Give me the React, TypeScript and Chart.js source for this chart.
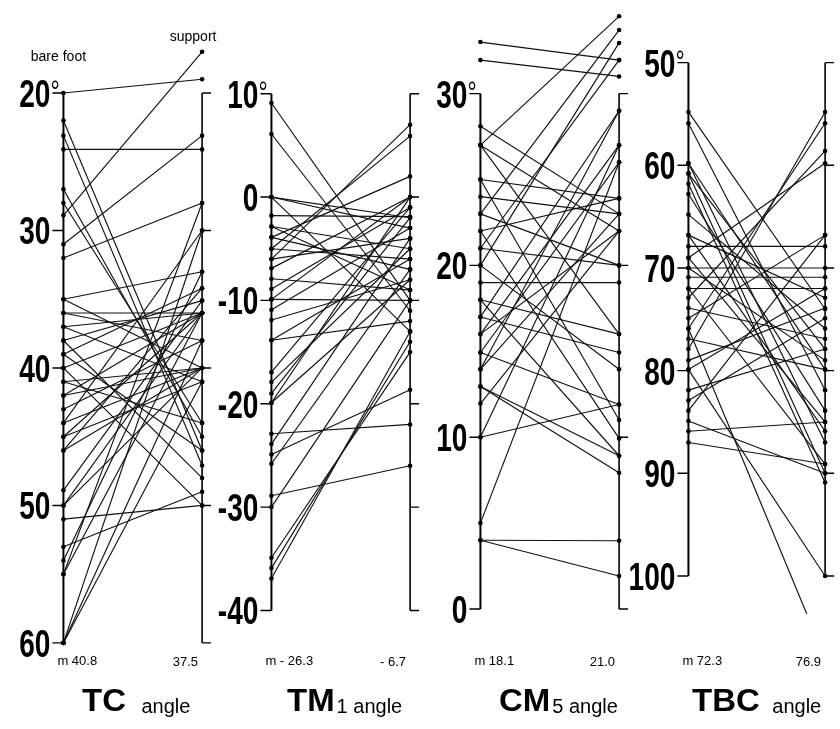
import React, { useEffect, useRef } from "react";
import { Chart, registerables } from "chart.js";

Chart.register(...registerables);

// ---------- data ----------
// TC angle (deg): bare foot -> support
const tcBareFoot = [20, 22, 23.1, 24.1, 27, 28, 28.9, 31, 32, 35, 35, 36, 36, 37, 37, 38, 38, 39, 39, 40, 40, 41, 41, 42, 42, 43, 44, 44, 45, 45, 46, 46, 48.9, 50, 50, 51, 53, 54, 55, 55, 60, 60, 60];
const tcSupport = [19, 46, 47.1, 24.1, 45, 44, 17, 23.1, 28, 33, 40, 38, 36, 41, 36, 48, 35.1, 46, 34.2, 50, 36, 44, 40, 36, 40, 38, 40, 30, 36, 41, 34.2, 40, 35.1, 40, 36, 50, 49, 33, 36, 28, 38, 41, 30];
const tcTicks = [20, 30, 40, 50, 60];

// TM1 angle
const tm1BareFoot = [9.1, 6.1, 0, 0, 0, -1.8, -2.85, -2.85, -3.9, -3.9, -5, -5, -6, -6, -6.9, -7.9, -8.9, -9.9, -9.9, -10.9, -11.9, -13.85, -13.85, -16.95, -17.9, -19, -19.9, -19.9, -22.9, -23.9, -24.9, -25.8, -28.9, -30, -34.9, -35.9, -36.9];
const tm1Support = [-10, -11, -2, -3, -13, -1.9, -5, -9, 2, -7, 5.9, -6, 7, -4, 0, -9, -1, -10, 0, -3, -8, -6, -12, -1, -5, -2, -8, 0, -22, -4, -18.65, -7, -26, -10, -15, -14, -13];
const tm1Ticks = [10, 0, -10, -20, -30, -40];

// CM5 angle
const cm5BareFoot = [33, 31.95, 28.1, 27, 27, 27, 25, 25, 24, 23, 23, 22, 22, 21, 21, 20, 20, 19, 18, 18, 17, 17, 16, 16, 14.93, 14.93, 13.95, 13.95, 12.95, 12.95, 11.96, 10, 10, 5, 4, 4];
const cm5Support = [31.95, 31, 23, 34.5, 22, 16, 23.9, 11, 23, 33.7, 20, 23.9, 9.93, 20, 31.95, 32.95, 13.95, 19, 16, 8.92, 29, 14.93, 27, 22, 26, 11.9, 29, 23, 8.92, 7.93, 22, 11.9, 27, 26, 3.97, 1.92];
const cm5Ticks = [30, 20, 10, 0];

// TBC angle
const tbcBareFoot = [54.8, 55.9, 59.8, 59.8, 60.8, 60.8, 61.8, 62.8, 64.8, 66.8, 66.8, 67.9, 69, 69, 70, 70, 70.9, 72, 72, 72.9, 73.9, 74.9, 75.9, 75.9, 76.9, 77.9, 79, 79.9, 79.9, 81.9, 82.9, 83.9, 84.9, 85.9, 87];
const tbcSupport = [74, 81.9, 87, 79.9, 90, 77.9, 90.9, 83.9, 75.9, 72.9, 85.9, 67.9, 59.8, 85, 70, 79, 70.9, 72, 89.1, 58.6, 76.9, 66.8, 108, 55.9, 79.9, 54.8, 73.9, 100, 72, 77.9, 74.9, 66.8, 90, 85, 89.1];
const tbcTicks = [50, 60, 70, 80, 90, 100];

const meanBare = ["m 40.8", "m - 26.3", "m 18.1", "m 72.3"];
const meanSupport = ["37.5", "- 6.7", "21.0", "76.9"];
const titleMain = ["TC", "TM", "CM", "TBC"];
const titleSub = [" angle", "1 angle", "5 angle", " angle"];

// ---------- layout ----------
const W = 840;
const H = 729;

type Panel = {
  bare: number[];
  support: number[];
  ticks: number[];
  leftX: number;
  rightX: number;
  anchorV: number;
  anchorPx: number;
  s: number;
  down: boolean;
  clipBottomValue?: number;
  titleX: number;
  subGap: number;
};

const panels: Panel[] = [
  { bare: tcBareFoot, support: tcSupport, ticks: tcTicks, leftX: 60, rightX: 200, anchorV: 20, anchorPx: 90, s: 13.9, down: true, titleX: 82, subGap: 10 },
  { bare: tm1BareFoot, support: tm1Support, ticks: tm1Ticks, leftX: 270, rightX: 410, anchorV: 10, anchorPx: 90.7, s: 10.45, down: false, titleX: 287, subGap: 2 },
  { bare: cm5BareFoot, support: cm5Support, ticks: cm5Ticks, leftX: 481, rightX: 621, anchorV: 0, anchorPx: 611.7, s: 17.37, down: false, titleX: 499, subGap: 2 },
  { bare: tbcBareFoot, support: tbcSupport, ticks: tbcTicks, leftX: 691, rightX: 829, anchorV: 50, anchorPx: 59.3, s: 10.38, down: true, clipBottomValue: 103.8, titleX: 692, subGap: 7 },
];

const TICK_FONT = 'bold 39px "Liberation Sans", Arial, sans-serif';
const TICK_SCALE = 0.72;
const SMALL_FONT = '13px "Liberation Sans", Arial, sans-serif';
const LABEL_FONT = '14px "Liberation Sans", Arial, sans-serif';
const TITLE_FONT = 'bold 32px "Liberation Sans", Arial, sans-serif';
const TITLE_SCALE = 1.03;
const SUB_FONT = '20px "Liberation Sans", Arial, sans-serif';

function buildScales() {
  const scales: any = {};
  panels.forEach((p, i) => {
    const span = p.rightX - p.leftX;
    scales["x" + i] = {
      type: "linear",
      axis: "x",
      display: false,
      min: (0 - p.leftX) / span,
      max: (W - p.leftX) / span,
    };
    if (p.down) {
      scales["y" + i] = {
        type: "linear",
        axis: "y",
        display: false,
        reverse: true,
        min: p.anchorV - p.anchorPx / p.s,
        max: p.anchorV + (H - p.anchorPx) / p.s,
      };
    } else {
      scales["y" + i] = {
        type: "linear",
        axis: "y",
        display: false,
        min: p.anchorV - (H - p.anchorPx) / p.s,
        max: p.anchorV + p.anchorPx / p.s,
      };
    }
  });
  return scales;
}

function buildDatasets() {
  const ds: any[] = [];
  panels.forEach((p, i) => {
    let clip: any = false;
    if (p.clipBottomValue !== undefined) {
      const px = p.anchorPx + (p.clipBottomValue - p.anchorV) * p.s;
      clip = { left: false, top: false, right: false, bottom: px - H };
    }
    p.bare.forEach((b, k) => {
      ds.push({
        data: [
          { x: 0, y: b },
          { x: 1, y: p.support[k] },
        ],
        xAxisID: "x" + i,
        yAxisID: "y" + i,
        showLine: true,
        borderColor: "#111",
        borderWidth: 1.15,
        pointRadius: 2.3,
        pointBorderWidth: 0,
        pointBackgroundColor: "#000",
        clip,
      });
    });
  });
  return ds;
}

const axesPlugin = {
  id: "slopeAxes",
  beforeDatasetsDraw(chart: any) {
    const ctx = chart.ctx as CanvasRenderingContext2D;
    panels.forEach((p, i) => {
      const xs = chart.scales["x" + i];
      const ys = chart.scales["y" + i];
      const lx = xs.getPixelForValue(0);
      const rx = xs.getPixelForValue(1);
      const yA = ys.getPixelForValue(p.ticks[0]);
      const yB = ys.getPixelForValue(p.ticks[p.ticks.length - 1]);
      ctx.save();
      ctx.strokeStyle = "#000";
      ctx.lineCap = "butt";
      ctx.lineWidth = 2;
      ctx.beginPath();
      ctx.moveTo(lx, yA);
      ctx.lineTo(lx, yB);
      ctx.stroke();
      ctx.lineWidth = 1.6;
      ctx.beginPath();
      ctx.moveTo(rx, yA);
      ctx.lineTo(rx, yB);
      ctx.stroke();
      ctx.lineWidth = 1.4;
      p.ticks.forEach((t) => {
        const y = ys.getPixelForValue(t);
        ctx.beginPath();
        ctx.moveTo(lx - 11, y);
        ctx.lineTo(lx, y);
        ctx.moveTo(rx, y);
        ctx.lineTo(rx + 9, y);
        ctx.stroke();
      });
      ctx.restore();
    });
  },
  afterDraw(chart: any) {
    const ctx = chart.ctx as CanvasRenderingContext2D;
    ctx.save();
    ctx.fillStyle = "#000";
    panels.forEach((p, i) => {
      const xs = chart.scales["x" + i];
      const ys = chart.scales["y" + i];
      const lx = xs.getPixelForValue(0);
      const rx = xs.getPixelForValue(1);
      // tick labels
      p.ticks.forEach((t, k) => {
        const y = ys.getPixelForValue(t);
        const txt = t < 0 ? "-" + Math.abs(t) : String(t);
        ctx.save();
        ctx.translate(lx - 13, y + 14);
        ctx.scale(TICK_SCALE, 1);
        ctx.font = TICK_FONT;
        ctx.textBaseline = "alphabetic";
        ctx.textAlign = "right";
        ctx.fillText(txt, 0, 0);
        if (k === 0) {
          ctx.textAlign = "left";
          ctx.font = '32px "Liberation Sans", Arial, sans-serif';
          ctx.fillText("\u00b0", 0, -5);
        }
        ctx.restore();
      });
      // means
      ctx.font = SMALL_FONT;
      ctx.textBaseline = "alphabetic";
      ctx.textAlign = "left";
      ctx.fillText(meanBare[i], lx - 6, 665);
      ctx.textAlign = "right";
      ctx.fillText(meanSupport[i], rx - 4, 666);
      // title
      ctx.save();
      ctx.textAlign = "left";
      ctx.font = TITLE_FONT;
      ctx.translate(p.titleX, 711);
      ctx.scale(TITLE_SCALE, 1);
      ctx.fillText(titleMain[i], 0, 0);
      const w = ctx.measureText(titleMain[i]).width * TITLE_SCALE;
      ctx.restore();
      ctx.font = SUB_FONT;
      ctx.textAlign = "left";
      ctx.fillText(titleSub[i], p.titleX + w + p.subGap, 713);
    });
    // series labels
    const xs0 = chart.scales["x0"];
    ctx.font = LABEL_FONT;
    ctx.textAlign = "center";
    ctx.fillText("bare foot", xs0.getPixelForValue(0) - 5, 61);
    ctx.fillText("support", xs0.getPixelForValue(1) - 9, 41);
    ctx.restore();
  },
};

export default function App() {
  const ref = useRef<HTMLCanvasElement>(null);
  useEffect(() => {
    const chart = new Chart(ref.current as HTMLCanvasElement, {
      type: "scatter",
      data: { datasets: buildDatasets() },
      options: {
        animation: false,
        responsive: false,
        devicePixelRatio: 1,
        layout: { padding: 0 },
        plugins: { legend: { display: false }, tooltip: { enabled: false }, title: { display: false } },
        events: [],
        scales: buildScales(),
      },
      plugins: [axesPlugin],
    } as any);
    return () => chart.destroy();
  }, []);
  return (
    <div style={{ position: "absolute", left: 0, top: 0, width: W, height: H, background: "#fff" }}>
      <canvas ref={ref} width={W} height={H} style={{ width: W, height: H, display: "block" }} />
    </div>
  );
}
